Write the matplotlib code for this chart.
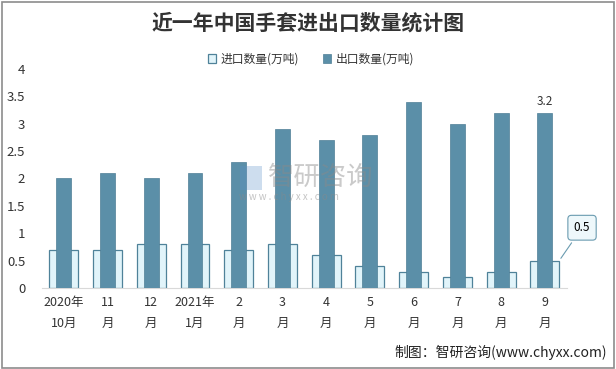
import numpy as np
import matplotlib
matplotlib.use("Agg")
import matplotlib.pyplot as plt
from matplotlib.patches import Rectangle

plt.rcParams['font.family'] = ['Noto Sans CJK SC', 'DejaVu Sans']

months = ["2020年\n10月", "11\n月", "12\n月", "2021年\n1月", "2\n月", "3\n月",
          "4\n月", "5\n月", "6\n月", "7\n月", "8\n月", "9\n月"]
import_qty = [0.7, 0.7, 0.8, 0.8, 0.7, 0.8, 0.6, 0.4, 0.3, 0.2, 0.3, 0.5]
export_qty = [2.0, 2.1, 2.0, 2.1, 2.3, 2.9, 2.7, 2.8, 3.4, 3.0, 3.2, 3.2]

fig = plt.figure(figsize=(6.16, 3.69), dpi=100)
ax = fig.add_axes([0.068, 0.2195, 0.852, 0.594])

x = np.arange(len(months))
ax.bar(x, import_qty, width=0.66, color="#e1f4fa", edgecolor="#4f8299",
       linewidth=0.9, label="进口数量(万吨)", zorder=2)
ax.bar(x, export_qty, width=0.34, color="#5b8fa8", edgecolor="#4f7f96",
       linewidth=0.5, label="出口数量(万吨)", zorder=3)

ax.set_xlim(-0.5, len(months) - 0.5)
ax.set_ylim(0, 4)
ax.set_yticks(np.arange(0, 4.01, 0.5))
ax.set_yticklabels(["0", "0.5", "1", "1.5", "2", "2.5", "3", "3.5", "4"])
ax.set_xticks(x)
ax.set_xticklabels(months, linespacing=1.75)
ax.tick_params(axis="both", length=0, colors="#333333")
ax.tick_params(axis="x", pad=6, labelsize=9)
ax.tick_params(axis="y", pad=12, labelsize=9.5)
for s in ["top", "right", "left"]:
    ax.spines[s].set_visible(False)
ax.spines["bottom"].set_color("#d9d9d9")

# data labels
ax.text(x[-1], export_qty[-1] + 0.08, f"{export_qty[-1]:g}", ha="center",
        va="bottom", fontsize=8.5, color="#333333")
ax.annotate(f"{import_qty[-1]:g}", xy=(x[-1] + 0.33, import_qty[-1]),
            xytext=(x[-1] + 0.85, 1.1), fontsize=8.5, ha="center", va="center",
            bbox=dict(boxstyle="round,pad=0.5,rounding_size=0.3", fc="#eef8fb",
                      ec="#6a9bb0", lw=0.8),
            arrowprops=dict(arrowstyle="-", color="#6a9bb0", lw=0.8),
            annotation_clip=False, zorder=5)

fig.legend(loc="center", bbox_to_anchor=(0.505, 0.84), ncol=2, frameon=False,
           fontsize=8.5, handlelength=0.7, handleheight=0.7, columnspacing=2.0,
           handletextpad=0.4, labelcolor="#333333")

fig.text(0.5, 0.937, "近一年中国手套进出口数量统计图", ha="center", va="center",
         fontsize=15, fontweight="bold", color="#333333")

# watermark
fig.patches.append(Rectangle((0.39, 0.485), 0.036, 0.066, transform=fig.transFigure,
                             fc="#5b8fc8", alpha=0.3, ec="none", zorder=10))
fig.text(0.435, 0.52, "智研咨询", ha="left", va="center", fontsize=19,
         color="#8a8a8a", alpha=0.45, zorder=10)
fig.text(0.388, 0.465, "w w w . c h y x x . c o m", ha="left", va="center",
         fontsize=7, color="#8a8a8a", alpha=0.5, zorder=10)

fig.text(0.986, 0.045, "制图：智研咨询(www.chyxx.com)", ha="right", va="center",
         fontsize=10, color="#222222")

fig.patches.append(Rectangle((0.003, 0.004), 0.993, 0.99, transform=fig.transFigure,
                             fill=False, ec="#8c8c8c", lw=1.2))

fig.savefig("out.png", dpi=100)
